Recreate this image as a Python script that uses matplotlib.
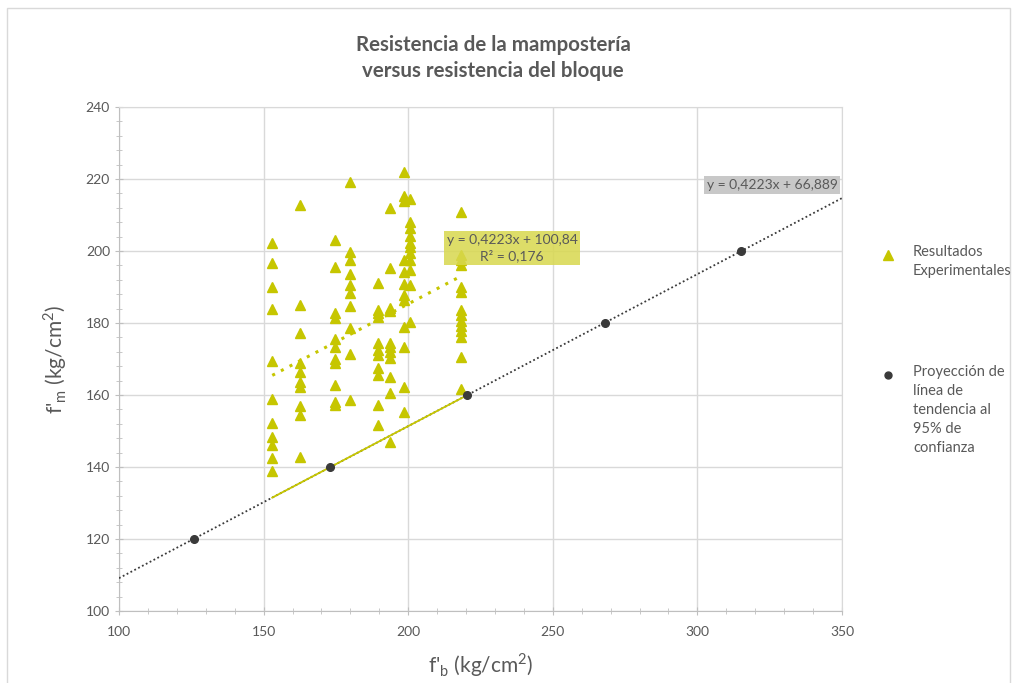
import matplotlib
matplotlib.use("Agg")
import matplotlib.pyplot as plt
from matplotlib.patches import Rectangle
from matplotlib.ticker import MultipleLocator
import numpy as np

plt.rcParams["font.family"] = ["Lato", "DejaVu Sans"]
plt.rcParams["mathtext.fontset"] = "custom"
plt.rcParams["mathtext.rm"] = "Lato"

# block strength columns (kg/cm2) and masonry strengths measured in each
fb_cols = [153.0, 162.6, 174.7, 180.0, 189.6, 193.6, 198.5, 200.5, 218.3]
fm_cols = [
    [202.1, 196.6, 190.1, 183.8, 169.5, 158.8, 152.3, 148.3, 146.1, 142.4, 139.0],
    [212.8, 185.0, 177.1, 168.8, 166.5, 163.7, 162.3, 156.9, 154.4, 142.9],
    [203.1, 195.5, 182.9, 181.3, 175.5, 173.4, 169.9, 168.8, 162.8, 158.1, 157.2],
    [219.3, 199.8, 197.5, 193.6, 190.6, 188.3, 184.8, 178.5, 171.3, 158.6],
    [191.0, 183.6, 182.7, 181.7, 174.5, 172.5, 171.1, 167.4, 165.6, 157.2, 151.7],
    [212.0, 195.2, 184.1, 183.2, 174.5, 173.3, 172.0, 170.2, 165.1, 160.5, 147.0],
    [222.0, 215.2, 213.8, 197.5, 194.2, 190.8, 187.8, 186.4, 179.0, 173.4, 162.3, 155.4],
    [214.5, 208.1, 206.3, 204.2, 202.3, 201.0, 199.5, 197.5, 194.7, 190.6, 180.4],
    [210.9, 198.9, 197.5, 196.1, 190.0, 188.5, 183.6, 182.2, 180.6, 179.2, 177.8, 176.2, 170.6, 161.6],
]

# trend lines: slope, intercepts (mean fit and 95 % projection)
slope = 0.4223
icpt_fit = 100.84
icpt_95 = 66.889
r2 = 0.176

# projected points on the 95 % line
proj_fb = [125.8, 173.1, 220.5, 267.9, 315.2]
proj_fm = [120, 140, 160, 180, 200]

YEL = "#c6c600"
DARK = "#3a3a3a"
GRID = "#d9d9d9"
TXT = "#595959"


def num(v, nd):
    return f"{v:.{nd}f}".replace(".", ",")


fig = plt.figure(figsize=(10.13, 6.83), dpi=100)
ax = fig.add_axes([119 / 1013, 1 - 611 / 683, 723 / 1013, 504 / 683])

# outer chart frame
fig.patches.append(Rectangle((7 / 1013, -0.02), 1003 / 1013, 1.0 - 8 / 683 + 0.02,
                             transform=fig.transFigure, fill=False,
                             edgecolor=GRID, lw=1.0))

xs = np.concatenate([[x] * len(c) for x, c in zip(fb_cols, fm_cols)])
ys = np.concatenate(fm_cols)
ax.plot(xs, ys, "^", color=YEL, ms=7.5, mec=YEL, zorder=4)

# 95 % projection line across the whole axis, solid yellow across the data span
xl = np.array([100, 350])
ax.plot(xl, slope * xl + icpt_95, ls=(0, (1, 1.4)), color=DARK, lw=1.3, zorder=3)
xd = np.array([min(fb_cols), proj_fb[2]])
ax.plot(xd, slope * xd + icpt_95, color=YEL, lw=1.3, zorder=3)
ax.plot(proj_fb, proj_fm, "o", color=DARK, ms=5.5, zorder=5)

# mean trend over the experimental range
xf = np.array([min(fb_cols), max(fb_cols)])
ax.plot(xf, slope * xf + icpt_fit, ls=(0, (1, 2.2)), color=YEL, lw=2.2, zorder=3)

fig.text(512 / 1013, 1 - 248 / 683,
         f"y = {num(slope, 4)}x + {num(icpt_fit, 2)}\nR² = {num(r2, 3)}",
         ha="center", va="center", fontsize=10, color=TXT, linespacing=1.25,
         zorder=6,
         bbox=dict(boxstyle="square,pad=0.22", fc="#d8d84e", ec="none", alpha=0.85))
fig.text(772 / 1013, 1 - 185 / 683, f"y = {num(slope, 4)}x + {num(icpt_95, 3)}",
         ha="center", va="center", fontsize=10, color=TXT, zorder=6,
         bbox=dict(boxstyle="square,pad=0.22", fc="#c8c8c8", ec="none"))

ax.set_xlim(100, 350)
ax.set_ylim(100, 240)
ax.xaxis.set_major_locator(MultipleLocator(50))
ax.xaxis.set_minor_locator(MultipleLocator(10))
ax.yaxis.set_major_locator(MultipleLocator(20))
ax.yaxis.set_minor_locator(MultipleLocator(4))
ax.grid(True, which="major", color=GRID, lw=1.0, zorder=0)
for s in ax.spines.values():
    s.set_color(GRID)
ax.spines["left"].set_color("#bfbfbf")
ax.spines["bottom"].set_color("#bfbfbf")
ax.tick_params(which="both", direction="inout", color="#bfbfbf", labelcolor=TXT,
               labelsize=10)
ax.tick_params(which="major", length=6)
ax.tick_params(which="minor", length=5)
ax.tick_params(axis="x", pad=8)

ax.set_xlabel("f'$_\\mathregular{b}$ (kg/cm$^\\mathregular{2}$)", fontsize=15,
              color=TXT, labelpad=9)
ax.set_ylabel("f'$_\\mathregular{m}$ (kg/cm$^\\mathregular{2}$)", fontsize=15,
              color=TXT, labelpad=12)

fig.text(493 / 1013, 1 - 58 / 683, "Resistencia de la mampostería\nversus resistencia del bloque",
         ha="center", va="center", fontsize=14.8, fontweight="bold", color=TXT,
         linespacing=1.4)

# legend drawn by hand so the markers line up with the first text line
ax.plot([888 / 1013], [1 - 255 / 683], "^", color=YEL, ms=7, transform=fig.transFigure,
        clip_on=False)
fig.text(913 / 1013, 1 - 245 / 683, "Resultados\nExperimentales", ha="left", va="top",
         fontsize=10.5, color=TXT, linespacing=1.45)
ax.plot([888 / 1013], [1 - 375 / 683], "o", color=DARK, ms=5, transform=fig.transFigure,
        clip_on=False)
fig.text(913 / 1013, 1 - 365 / 683,
         "Proyección de\nlínea de\ntendencia al\n95% de\nconfianza",
         ha="left", va="top", fontsize=10.5, color=TXT, linespacing=1.45)

fig.savefig("out.png", dpi=100)
